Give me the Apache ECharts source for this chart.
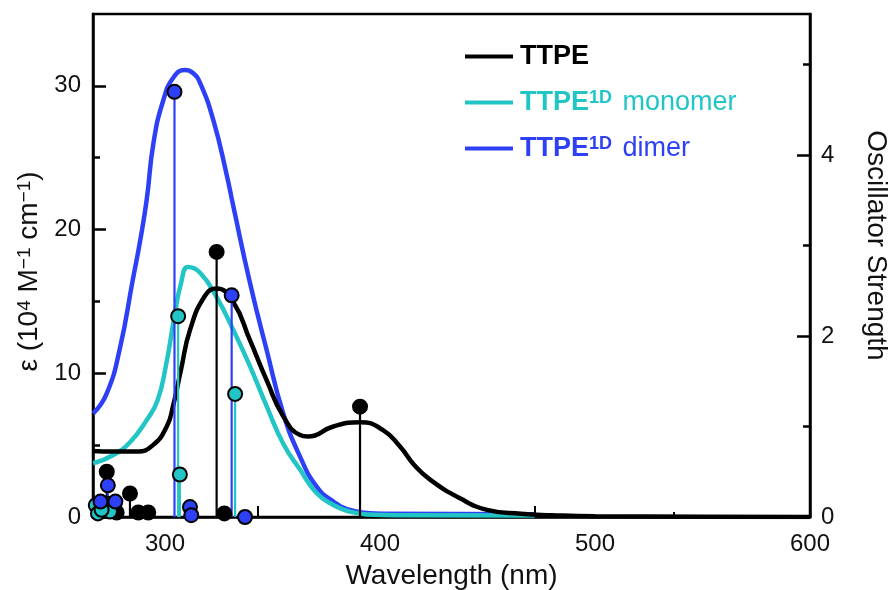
<!DOCTYPE html>
<html>
<head>
<meta charset="utf-8">
<script src="https://cdn.jsdelivr.net/npm/echarts@6/dist/echarts.min.js"></script>
<style>
  html, body { margin: 0; padding: 0; background: #fff; }
  #chart { width: 894px; height: 590px; }
</style>
</head>
<body>
<div id="chart"></div>
<script>
// absorption curves: [wavelength nm, epsilon 10^4 M^-1 cm^-1]
const ttpeCurve = [
  [266.5, 4.6], [275.8, 4.55], [286.8, 4.55], [294.4, 5.0], [300.8, 6.3], [303.7, 7.7],
  [307.5, 10.3], [311.6, 13.0], [318.6, 15.4], [324.0, 15.9], [331.6, 15.0], [339.5, 12.3],
  [347.3, 9.5], [355.0, 7.0], [362.8, 5.7], [366.5, 5.6], [378.3, 6.3], [390.7, 6.6],
  [401.4, 6.05], [409.3, 4.9], [416.0, 3.6], [423.3, 2.6], [437.2, 1.3], [449.8, 0.5],
  [465.4, 0.22], [480, 0.12], [500, 0.05], [550, 0.02], [600, 0.0]
];
const monomerCurve = [
  [266.6, 3.74], [275.8, 4.3], [283.7, 5.2], [291.5, 6.75], [296.5, 8.1], [300.5, 10.6],
  [304.2, 13.8], [307.5, 16.3], [310.7, 17.4], [316.3, 17.0], [324.0, 15.3], [331.8, 13.0],
  [339.5, 10.5], [347.3, 7.7], [355.0, 5.1], [362.8, 3.3], [370.6, 1.65], [378.3, 0.84],
  [386.0, 0.37], [393.8, 0.18], [409.3, 0.12], [472, 0.1]
];
const dimerCurve = [
  [266.6, 7.2], [272.9, 8.6], [279.1, 11.8], [285.0, 16.5], [288.4, 19.2], [291.5, 22.1],
  [294.6, 26.0], [299.2, 29.0], [304.0, 30.6], [309.3, 31.1], [313.0, 30.9], [316.3, 30.2],
  [322.5, 27.6], [328.7, 23.8], [331.8, 21.6], [339.5, 16.3], [347.3, 11.6], [355.0, 7.2],
  [362.8, 4.2], [370.6, 2.1], [378.3, 1.07], [386.0, 0.49], [393.8, 0.28], [401.4, 0.22],
  [472, 0.2]
];

// calculated transitions: [wavelength nm, oscillator strength]
const ttpeSticks = [
  [272.9, 0.50], [283.7, 0.26], [277.5, 0.05], [287.6, 0.05], [292.2, 0.05],
  [324.0, 2.93], [327.6, 0.04], [390.7, 1.22]
];
const monomerSticks = [
  [267.8, 0.13], [272.8, 0.15], [268.8, 0.04], [274.4, 0.06], [270.5, 0.08],
  [306.1, 2.22], [306.9, 0.47], [332.6, 1.36]
];
const dimerSticks = [
  [273.4, 0.35], [270.0, 0.17], [276.9, 0.17], [304.4, 4.70], [311.6, 0.11],
  [312.2, 0.02], [331.0, 2.45], [337.2, 0.0]
];

const xLabels = [300, 400, 500, 600];
const xMajorTicks = [343.2, 471.9];
const xMinorTicks = [407.7, 536.5];
const epsLabels = [0, 10, 20, 30];
const epsMinor = [5, 15, 25];
const oscLabels = [0, 2, 4];
const oscMinor = [1, 3, 5];

const BLACK = '#000000';
const CYAN = '#22c5c5';
const BLUE = '#2e40f6';
const FONT = 'Liberation Sans, Arial, sans-serif';

const chart = echarts.init(document.getElementById('chart'));

function sticks(name, data, color) {
  return [
    {
      name: name + ' sticks',
      type: 'custom',
      xAxisIndex: 0,
      yAxisIndex: 2,
      z: 5,
      data: data,
      renderItem: (params, api) => {
        const top = api.coord([api.value(0), api.value(1)]);
        const base = api.coord([api.value(0), 0]);
        return {
          type: 'line',
          shape: { x1: top[0], y1: top[1], x2: base[0], y2: base[1] },
          style: { stroke: color, lineWidth: 2.2 }
        };
      }
    },
    {
      name: name + ' dots',
      type: 'scatter',
      xAxisIndex: 0,
      yAxisIndex: 2,
      z: 6,
      symbolSize: 14,
      itemStyle: { color: color, borderColor: '#000', borderWidth: 2, opacity: 1 },
      data: data
    }
  ];
}

function curve(name, data, color) {
  return {
    name: name,
    type: 'line',
    xAxisIndex: 0,
    yAxisIndex: 0,
    z: 3,
    showSymbol: false,
    smooth: 0.5,
    lineStyle: { color: color, width: 4.5 },
    itemStyle: { color: color },
    data: data
  };
}

const supName = { fontSize: 19, color: '#111', fontFamily: FONT, verticalAlign: 'top' };

const option = {
  animation: false,
  textStyle: { fontFamily: FONT },
  grid: {
    left: 93, right: 84, top: 14, bottom: 73,
    outerBoundsMode: 'none',
    containLabel: false,
    show: true, borderColor: '#000', borderWidth: 2.5
  },
  legend: {
    orient: 'vertical',
    left: 460,
    top: 38,
    itemWidth: 48,
    itemHeight: 4,
    itemGap: 19,
    icon: 'rect',
    data: ['TTPE', 'TTPE1D monomer', 'TTPE1D dimer'],
    formatter: (name) => {
      if (name === 'TTPE') return '{k|TTPE}';
      if (name === 'TTPE1D monomer') return '{c|TTPE}{cs|1D}{cn| monomer}';
      return '{b|TTPE}{bs|1D}{bn| dimer}';
    },
    textStyle: {
      fontFamily: FONT,
      padding: [0, 0, 0, 2],
      rich: {
        k: { fontSize: 27, fontWeight: 'bold', color: BLACK },
        c: { fontSize: 27, fontWeight: 'bold', color: CYAN },
        cs: { fontSize: 18, fontWeight: 'bold', color: CYAN, verticalAlign: 'top' },
        cn: { fontSize: 27, color: CYAN, padding: [0, 0, 0, 3] },
        b: { fontSize: 27, fontWeight: 'bold', color: BLUE },
        bs: { fontSize: 18, fontWeight: 'bold', color: BLUE, verticalAlign: 'top' },
        bn: { fontSize: 27, color: BLUE, padding: [0, 0, 0, 3] }
      }
    }
  },
  xAxis: [
    {
      type: 'value', min: 266.5, max: 600, position: 'bottom',
      axisLine: { lineStyle: { color: '#000', width: 2.5 } },
      axisTick: { inside: true, length: 11, customValues: xMajorTicks, lineStyle: { color: '#000', width: 2 } },
      axisLabel: { customValues: xLabels, fontSize: 24, color: '#111', margin: 15, fontFamily: FONT },
      splitLine: { show: false },
      name: 'Wavelength (nm)',
      nameLocation: 'middle',
      nameGap: 45,
      nameTextStyle: { fontSize: 28, color: '#111', fontFamily: FONT }
    },
    {
      type: 'value', min: 266.5, max: 600, position: 'bottom',
      axisLine: { show: false },
      axisTick: { inside: true, length: 5, customValues: xMinorTicks, lineStyle: { color: '#000', width: 2 } },
      axisLabel: { show: false },
      splitLine: { show: false }
    }
  ],
  yAxis: [
    {
      type: 'value', min: 0, max: 35, position: 'left',
      axisLine: { show: true, lineStyle: { color: '#000', width: 2.5 } },
      axisTick: { inside: true, length: 13, customValues: epsLabels, lineStyle: { color: '#000', width: 2.5 } },
      axisLabel: { customValues: epsLabels, fontSize: 24, color: '#111', margin: 12, fontFamily: FONT },
      splitLine: { show: false },
      name: 'ε (10{s|4} M{s|−1} cm{s|−1})',
      nameLocation: 'middle',
      nameGap: 47,
      nameTextStyle: {
        fontSize: 28, color: '#111', fontFamily: FONT,
        padding: [0, 12, 0, 0],
        rich: { s: supName }
      }
    },
    {
      type: 'value', min: 0, max: 35, position: 'left',
      axisLine: { show: false },
      axisTick: { inside: true, length: 7, customValues: epsMinor, lineStyle: { color: '#000', width: 2.5 } },
      axisLabel: { show: false },
      splitLine: { show: false }
    },
    {
      type: 'value', min: 0, max: 5.56, position: 'right',
      axisLine: { show: true, lineStyle: { color: '#000', width: 2.5 } },
      axisTick: { inside: true, length: 13, customValues: oscLabels, lineStyle: { color: '#000', width: 2.5 } },
      axisLabel: { customValues: oscLabels, fontSize: 24, color: '#111', margin: 11, fontFamily: FONT },
      splitLine: { show: false },
      name: 'Oscillator Strength',
      nameLocation: 'middle',
      nameGap: 52,
      nameRotate: -90,
      nameTextStyle: { fontSize: 28, color: '#111', fontFamily: FONT, padding: [0, 40, 0, 0] }
    },
    {
      type: 'value', min: 0, max: 5.56, position: 'right',
      axisLine: { show: false },
      axisTick: { inside: true, length: 7, customValues: oscMinor, lineStyle: { color: '#000', width: 2.5 } },
      axisLabel: { show: false },
      splitLine: { show: false }
    }
  ],
  series: [
    curve('TTPE1D dimer', dimerCurve, BLUE),
    curve('TTPE1D monomer', monomerCurve, CYAN),
    curve('TTPE', ttpeCurve, BLACK),
    ...sticks('TTPE', ttpeSticks, BLACK),
    ...sticks('monomer', monomerSticks, CYAN),
    ...sticks('dimer', dimerSticks, BLUE)
  ]
};

chart.setOption(option);
</script>
</body>
</html>
